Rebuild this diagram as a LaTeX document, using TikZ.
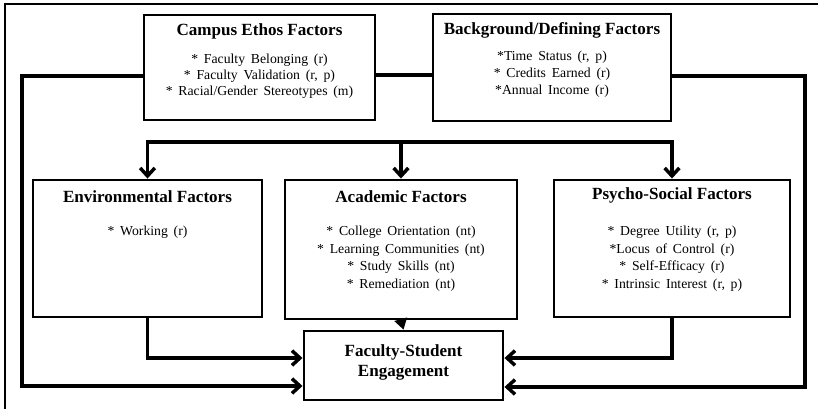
\documentclass[tikz,border=0pt]{standalone}
\usepackage{fontspec}
\setmainfont{Liberation Serif}
\usetikzlibrary{arrows.meta}
\begin{document}
\begin{tikzpicture}[x=0.75pt,y=-0.75pt,
  box/.style={draw=black, line width=2.2pt, fill=white, inner sep=0pt},
  ttl/.style={font=\fontsize{12.8}{15}\selectfont\bfseries, inner sep=0pt, align=center},
  itm/.style={font=\fontsize{10.3}{#1}\selectfont, align=center, inner sep=0pt,
    execute at begin node={\spaceskip=0.42em\relax}},
  conn/.style={line width=2.6pt, line join=miter},
  arr/.style={conn, -{Straight Barb[length=6pt,width=11pt]}},
  tarr/.style={line width=2.6pt, -{Triangle[length=8pt,width=10pt,line width=0pt]}},
  frame/.style={line width=1.1pt}
]
\useasboundingbox (0,0) rectangle (818,409);
% frame (left and top edges)
\draw[frame] (5,409) -- (5,4) -- (818,4);

% boxes
\node[box, minimum width=231*0.75pt, minimum height=105*0.75pt] (campus) at (259.5,67.5) {};
\node[box, minimum width=238*0.75pt, minimum height=107*0.75pt] (bg) at (552,67.5) {};
\node[box, minimum width=229*0.75pt, minimum height=137*0.75pt] (env) at (147.5,248.5) {};
\node[box, minimum width=232*0.75pt, minimum height=139*0.75pt] (acad) at (401,249.5) {};
\node[box, minimum width=236*0.75pt, minimum height=137*0.75pt] (psy) at (672,248.5) {};
\node[box, minimum width=199*0.75pt, minimum height=69*0.75pt] (fse) at (403.5,365.5) {};

% texts
\node[ttl] (campusT) at (259.5,31) {Campus Ethos Factors};
\node[itm=12pt] (campusI) at (259.5,76) {* Faculty Belonging (r)\\* Faculty Validation (r, p)\\* Racial/Gender Stereotypes (m)};
\node[ttl] (bgT) at (552,30) {Background/Defining Factors};
\node[itm=12.75pt] (bgI) at (552,74.5) {*Time Status (r, p)\\* Credits Earned (r)\\*Annual Income (r)};
\node[ttl] (envT) at (147.5,197) {Environmental Factors};
\node[itm=13pt] (envI) at (147.5,232) {* Working (r)};
\node[ttl] (acadT) at (401,197) {Academic Factors};
\node[itm=13.2pt] (acadI) at (401,258.5) {* College Orientation (nt)\\* Learning Communities (nt)\\* Study Skills (nt)\\* Remediation (nt)};
\node[ttl] (psyT) at (672,195) {Psycho-Social Factors};
\node[itm=13.2pt] (psyI) at (672,258.5) {* Degree Utility (r, p)\\*Locus of Control (r)\\* Self-Efficacy (r)\\* Intrinsic Interest (r, p)};
\node[ttl] (fseT) at (403.5,362) {Faculty-Student\\Engagement};

% routing coordinates
\coordinate (Mid) at (404,75);
\coordinate (Lt) at (22,76);
\coordinate (Lb) at (22,386);
\coordinate (Rt) at (805,76);
\coordinate (Rb) at (805,387);
\coordinate (Dl) at (0,142);
\coordinate (Ey) at (0,358);

% connectors
\draw[conn] (campus.east |- Mid) -- (bg.west |- Mid);
\draw[arr] (campus.west |- Lt) -- (Lt) -- (Lb) -- (fse.west |- Lb);
\draw[arr] (bg.east |- Rt) -- (Rt) -- (Rb) -- (fse.east |- Rb);
\draw[conn, {Straight Barb[length=6pt,width=11pt]}-{Straight Barb[length=6pt,width=11pt]}]
  (env.north) |- (acad.north |- Dl) -| (psy.north);
\draw[arr] (acad.north |- Dl) -- (acad.north);
\draw[tarr] (acad.south) -- (fse.north);
\draw[arr] (env.south) |- (fse.west |- Ey);
\draw[arr] (psy.south) |- (fse.east |- Ey);
\end{tikzpicture}
\end{document}
